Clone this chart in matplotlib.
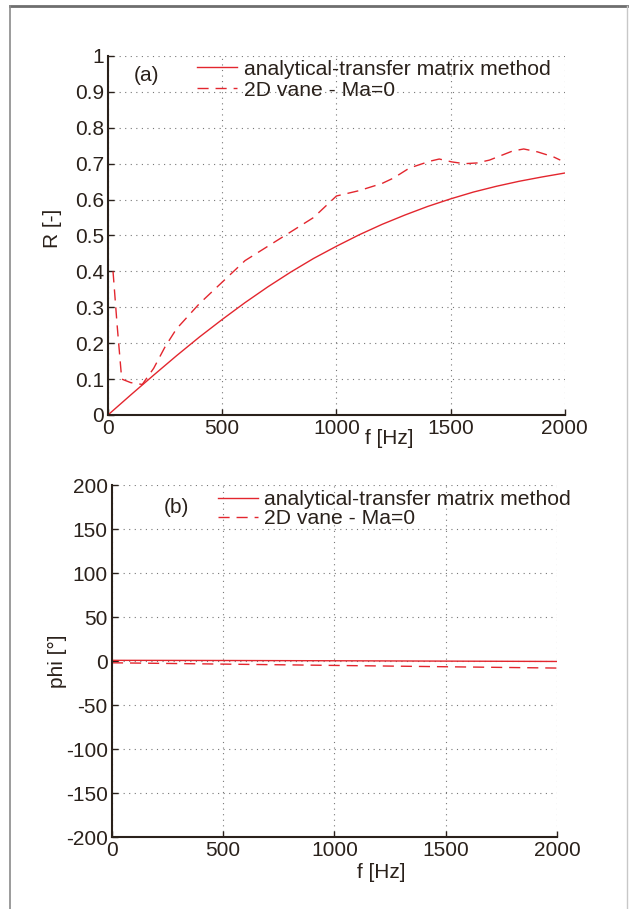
import numpy as np
import matplotlib
matplotlib.use('Agg')
import matplotlib.pyplot as plt
from matplotlib.lines import Line2D

plt.rcParams['font.family'] = ['Liberation Sans', 'DejaVu Sans']
plt.rcParams['axes.unicode_minus'] = False

# panel (a) - reflection coefficient
f_an = [0, 100, 200, 300, 400, 500, 600, 700, 800, 900, 1000, 1100, 1200,
        1300, 1400, 1500, 1600, 1700, 1800, 1900, 2000]
R_an = [0, 0.056, 0.111, 0.165, 0.217, 0.266, 0.313, 0.357, 0.398, 0.436, 0.47,
        0.502, 0.531, 0.557, 0.581, 0.602, 0.621, 0.637, 0.651, 0.663, 0.674]

f_cfd = [22, 40, 60, 100, 150, 200, 250, 300, 400, 500, 600, 700, 800, 900,
         1000, 1100, 1200, 1250, 1320, 1410, 1450, 1505, 1560, 1615, 1670,
         1770, 1820, 1880, 1950, 1980]
R_cfd = [0.4, 0.25, 0.1, 0.09, 0.085, 0.13, 0.19, 0.24, 0.31, 0.37, 0.43,
         0.47, 0.51, 0.55, 0.61, 0.625, 0.645, 0.66, 0.688, 0.707, 0.713,
         0.705, 0.7, 0.702, 0.71, 0.735, 0.741, 0.733, 0.719, 0.71]

# panel (b) - phase
f_ph = [0, 500, 1000, 1500, 2000]
phi_an = [0.8, 0.6, 0.3, -0.1, -0.5]
phi_cfd = [-2, -3.5, -5, -6.5, -8]

red = '#e3262e'
txt = '#2a211b'
fs = 15
dash = (0, (8, 5))

fig = plt.figure(figsize=(6.29, 9.09), dpi=100)

ax1 = fig.add_axes([0.1717, 0.5435, 0.7263, 0.3949])
ax2 = fig.add_axes([0.178, 0.0792, 0.7075, 0.3872])

ax1.plot(f_an, R_an, color=red, lw=1.0, label='analytical-transfer matrix method')
ax1.plot(f_cfd, R_cfd, color=red, lw=1.0, ls=dash, label='2D vane - Ma=0')
ax1.set_xlim(0, 2000)
ax1.set_ylim(0, 1)
ax1.set_xticks([0, 500, 1000, 1500, 2000])
ax1.set_yticks(np.arange(0, 1.01, 0.1))
ax1.set_yticklabels(['0', '0.1', '0.2', '0.3', '0.4', '0.5', '0.6', '0.7', '0.8', '0.9', '1'])
ax1.set_ylabel('R [-]', fontsize=fs, color=txt)
ax1.yaxis.set_label_coords(-0.1, 0.52)
ax1.text(0.085, 0.947, '(a)', transform=ax1.transAxes, fontsize=fs, color=txt,
         ha='center', va='center')
ax1.legend(loc='upper left', bbox_to_anchor=(0.195, 0.99), frameon=False,
           fontsize=15.2, borderpad=0, borderaxespad=0, handlelength=1.9,
           handletextpad=0.3, labelspacing=0.1, labelcolor=txt)
fig.text(389 / 629, 1 - 438 / 909, 'f [Hz]', fontsize=fs, color=txt,
         ha='center', va='center')

ax2.plot(f_ph, phi_an, color=red, lw=1.0, label='analytical-transfer matrix method')
ax2.plot(f_ph, phi_cfd, color=red, lw=1.0, ls=dash, label='2D vane - Ma=0')
ax2.set_xlim(0, 2000)
ax2.set_ylim(-200, 200)
ax2.set_xticks([0, 500, 1000, 1500, 2000])
ax2.set_yticks(np.arange(-200, 201, 50))
ax2.set_ylabel('phi [°]', fontsize=fs, color=txt)
ax2.yaxis.set_label_coords(-0.1, 0.5)
ax2.text(0.146, 0.9375, '(b)', transform=ax2.transAxes, fontsize=fs, color=txt,
         ha='center', va='center')
ax2.legend(loc='upper left', bbox_to_anchor=(0.238, 0.985), frameon=False,
           fontsize=15.2, borderpad=0, borderaxespad=0, handlelength=1.9,
           handletextpad=0.3, labelspacing=0.0, labelcolor=txt)
fig.text(381 / 629, 1 - 872 / 909, 'f [Hz]', fontsize=fs, color=txt,
         ha='center', va='center')

for ax in (ax1, ax2):
    ax.spines['top'].set_visible(False)
    ax.spines['right'].set_visible(False)
    for s in ('left', 'bottom'):
        ax.spines[s].set_color(txt)
        ax.spines[s].set_linewidth(1.5)
    ax.tick_params(direction='in', length=4, width=1, colors=txt,
                   labelsize=fs, pad=3)
    ax.grid(True, ls=(0, (1, 4)), color='#777777', lw=0.8)
    ax.set_axisbelow(True)

# outer frame
frame_col = '#8a8a8a'
fig.add_artist(Line2D([10 / 629, 627 / 629], [1 - 6 / 909, 1 - 6 / 909],
                      transform=fig.transFigure, color='#6e6e6e', lw=2))
fig.add_artist(Line2D([10 / 629, 10 / 629], [0, 1 - 6 / 909],
                      transform=fig.transFigure, color=frame_col, lw=1.2))
fig.add_artist(Line2D([627 / 629, 627 / 629], [0, 1 - 6 / 909],
                      transform=fig.transFigure, color='#c8c8c8', lw=1.0))

fig.savefig('out.png', dpi=100)
